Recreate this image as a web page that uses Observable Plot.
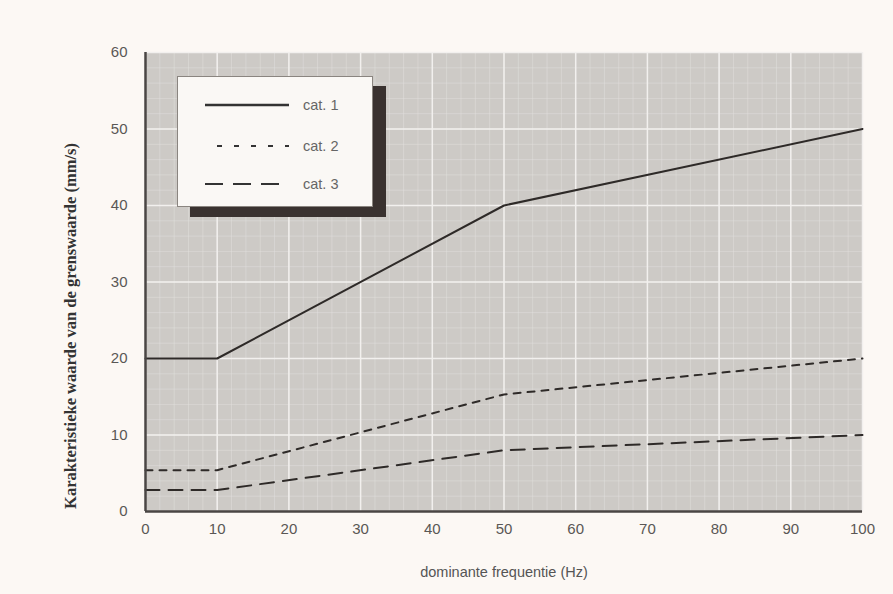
<!DOCTYPE html>
<html>
<head>
<meta charset="utf-8">
<script src="https://cdn.jsdelivr.net/npm/d3@7"></script>
<script src="https://cdn.jsdelivr.net/npm/@observablehq/plot@0.6"></script>
<style>
  html, body { margin: 0; padding: 0; background: #fcf8f4; }
  #wrap { position: relative; width: 893px; height: 594px; }
  #legend { position: absolute; left: 177px; top: 76px; width: 196px; height: 131px;
    background: #faf8f5; border: 1.5px solid #8a8580; box-sizing: border-box;
    box-shadow: 13px 10px 0 #3a3230; font-family: "Liberation Sans", Arial, sans-serif; }
  #legend .row { position: absolute; left: 0; height: 20px; }
  #legend .row span { position: absolute; left: 125px; top: 0; font-size: 14.5px; color: #666; line-height: 20px; }
  #legend svg { position: absolute; left: 25px; top: 0; }
</style>
</head>
<body>
<div id="wrap"></div>
<script>
// Data
const freq = [0, 10, 50, 100];
const cat1 = [20, 20, 40, 50];
const cat2 = [5.4, 5.4, 15.3, 20];
const cat3 = [2.8, 2.8, 8, 10];
const seriesNames = ["cat. 1", "cat. 2", "cat. 3"];
const xTicks = [0, 10, 20, 30, 40, 50, 60, 70, 80, 90, 100];
const yTicks = [0, 10, 20, 30, 40, 50, 60];
const xMinor = d3.range(0, 101, 2);
const yMinor = d3.range(0, 61, 2);
const xLabel = "dominante frequentie (Hz)";
const yLabel = "Karakteristieke waarde van de grenswaarde (mm/s)";

const toRows = (vals) => freq.map((f, i) => ({f, v: vals[i]}));
const dashes = ["none", "7,7", "14,9"];
const legendDashes = ["none", "5,12", "18,10"];

const chart = Plot.plot({
  width: 893,
  height: 594,
  marginLeft: 145,
  marginRight: 31,
  marginTop: 52,
  marginBottom: 83,
  style: { background: "#fcf8f4", fontFamily: "'Liberation Sans', Arial, sans-serif" },
  x: { domain: [0, 100], ticks: xTicks },
  y: { domain: [0, 60], ticks: yTicks },
  marks: [
    Plot.frame({ fill: "#cdcac6", stroke: "none" }),
    Plot.ruleX(xMinor, { stroke: "#e4e2df", strokeWidth: 0.8, strokeOpacity: 0.6 }),
    Plot.ruleY(yMinor, { stroke: "#e4e2df", strokeWidth: 0.8, strokeOpacity: 0.6 }),
    Plot.ruleX(xTicks, { stroke: "#f2f0ee", strokeWidth: 1.5 }),
    Plot.ruleY(yTicks, { stroke: "#f2f0ee", strokeWidth: 1.5 }),
    Plot.line(toRows(cat1), { x: "f", y: "v", stroke: "#2e2a28", strokeWidth: 2 }),
    Plot.line(toRows(cat2), { x: "f", y: "v", stroke: "#2e2a28", strokeWidth: 2, strokeDasharray: dashes[1] }),
    Plot.line(toRows(cat3), { x: "f", y: "v", stroke: "#2e2a28", strokeWidth: 2, strokeDasharray: dashes[2] }),
    Plot.ruleX([0], { stroke: "#4a4644", strokeWidth: 2.5 }),
    Plot.ruleY([0], { stroke: "#4a4644", strokeWidth: 2.5 }),
    Plot.axisX(xTicks, { tickSize: 0, tickPadding: 12, fontSize: 15, fill: "#5a5755", label: null }),
    Plot.axisY(yTicks, { tickSize: 0, tickPadding: 18, fontSize: 15, fill: "#5a5755", label: null }),
    Plot.text([xLabel], { frameAnchor: "bottom", dy: 65, fontSize: 14.5, fill: "#555" }),
    Plot.text([yLabel], { frameAnchor: "left", textAnchor: "middle", dx: -75, dy: 44, rotate: -90, fontSize: 16.5,
      fontFamily: "'Liberation Serif', 'DejaVu Serif', serif", fontWeight: "bold", fill: "#333" })
  ]
});
const wrap = document.getElementById("wrap");
wrap.appendChild(chart);

// Legend overlay
const legend = document.createElement("div");
legend.id = "legend";
const rowTops = [18, 59, 97];
seriesNames.forEach((name, i) => {
  const row = document.createElement("div");
  row.className = "row";
  row.style.top = rowTops[i] + "px";
  row.style.width = "190px";
  row.innerHTML = `<svg width="90" height="20"><line x1="2" y1="10" x2="86" y2="10" stroke="#333" stroke-width="${i === 0 ? 2.5 : 2}" ${legendDashes[i] !== "none" ? `stroke-dasharray="${legendDashes[i]}"` : ""} ${i === 1 ? 'stroke-dashoffset="-12"' : ''}/></svg><span>${name}</span>`;
  legend.appendChild(row);
});
wrap.appendChild(legend);
</script>
</body>
</html>
